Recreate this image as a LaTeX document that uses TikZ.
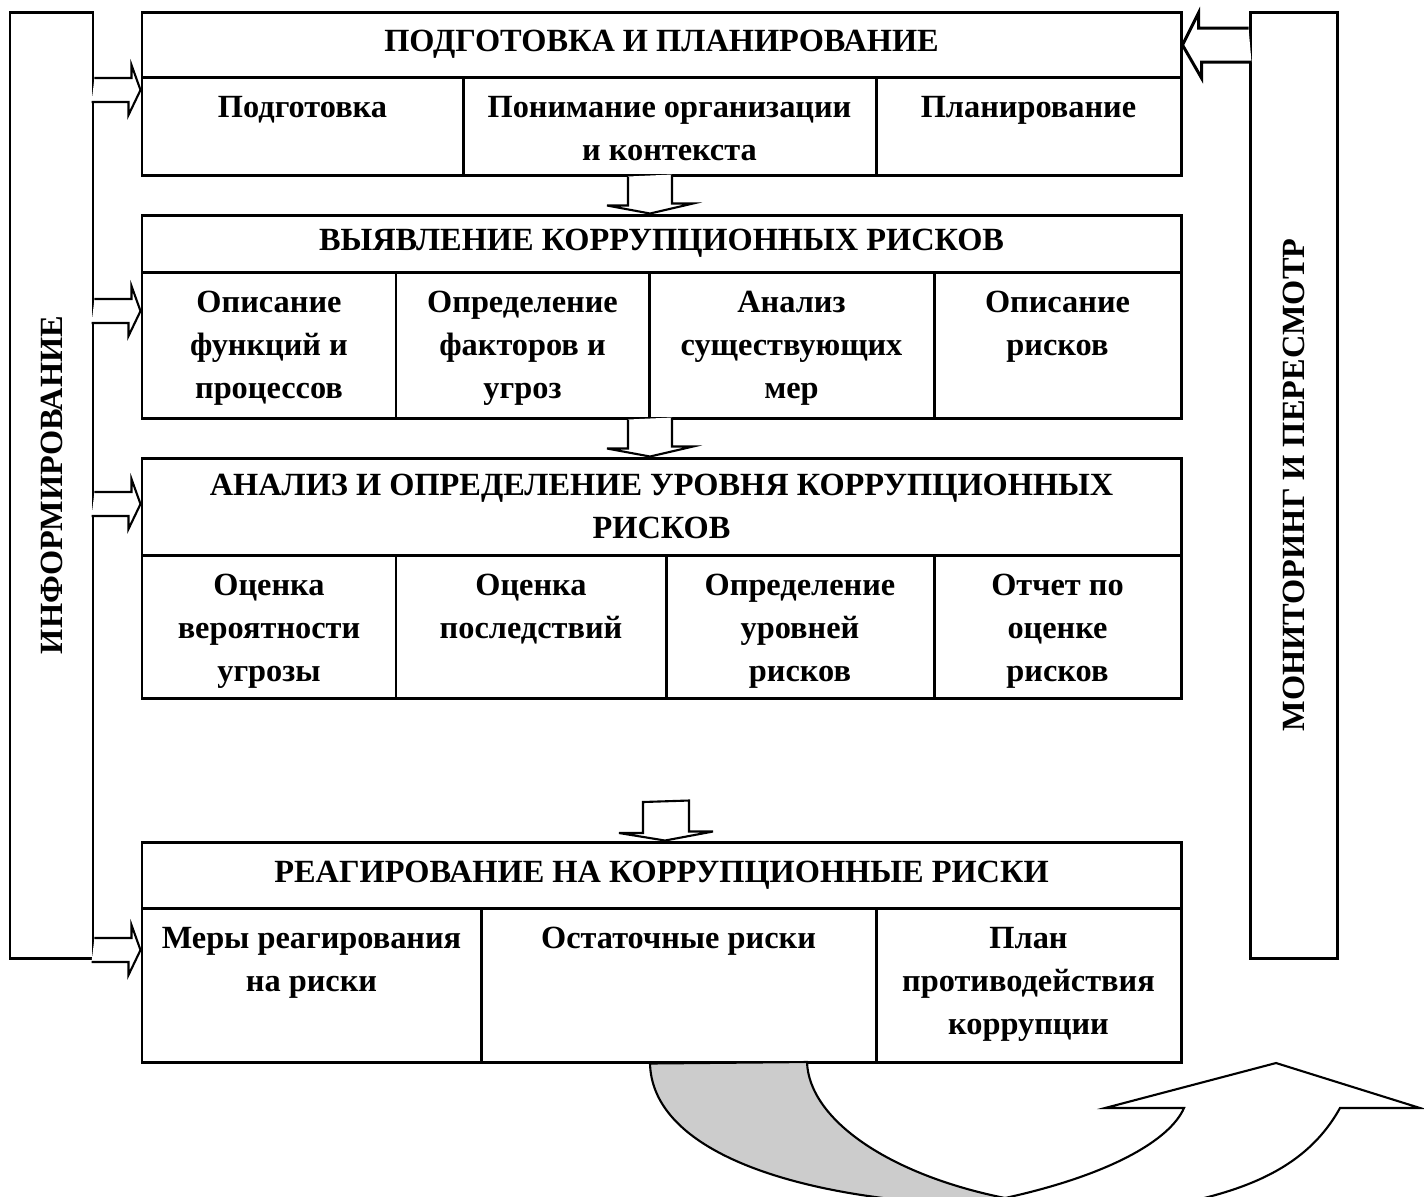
\documentclass[tikz,border=0pt]{standalone}
\usepackage{fontspec}
\setmainfont{Liberation Serif}
\usetikzlibrary{positioning, calc, fit}

\tikzset{
  box/.style={draw, line width=0.85pt, inner sep=0pt},
  txt/.style={font=\bfseries\fontsize{9.2}{12.2}\selectfont, align=center, inner sep=0pt},
  headtext/.style={label={[txt]center:{#1}}},
  celltext/.style={label={[txt, anchor=north, yshift=-0.2cm]north:{#1}}},
  hollow/.style={draw, fill=white, line width=0.6pt, line join=miter},
}

\begin{document}
\begin{tikzpicture}[x=0.01cm, y=-0.01cm]
  \useasboundingbox (0,0) rectangle (1424,1196);

  % side boxes
  \node[box, fit={(10,12) (93,958)}, label={[txt, rotate=90]center:ИНФОРМИРОВАНИЕ}] (info) {};
  \node[box, fit={(1250,12) (1337,958)}, label={[txt, rotate=90]center:МОНИТОРИНГ И ПЕРЕСМОТР}] (monitor) {};

  % stage 1
  \node[box, fit={(142,12) (1181,77)}, headtext={ПОДГОТОВКА И ПЛАНИРОВАНИЕ}] (plan) {};
  \node[box, fit={(142,77) (463,175)}, celltext={Подготовка}] (plan1) {};
  \node[box, fit={(463,77) (876,175)}, celltext={Понимание организации\\и контекста}] (plan2) {};
  \node[box, fit={(876,77) (1181,175)}, celltext={Планирование}] (plan3) {};

  % stage 2
  \node[box, fit={(142,215) (1181,272)}, headtext={ВЫЯВЛЕНИЕ КОРРУПЦИОННЫХ РИСКОВ}] (ident) {};
  \node[box, fit={(142,272) (396,418)}, celltext={Описание\\функций и\\процессов}] (ident1) {};
  \node[box, fit={(396,272) (649,418)}, celltext={Определение\\факторов и\\угроз}] (ident2) {};
  \node[box, fit={(649,272) (934,418)}, celltext={Анализ\\существующих\\мер}] (ident3) {};
  \node[box, fit={(934,272) (1181,418)}, celltext={Описание\\рисков}] (ident4) {};

  % stage 3
  \node[box, fit={(142,458) (1181,555)}, headtext={АНАЛИЗ И ОПРЕДЕЛЕНИЕ УРОВНЯ КОРРУПЦИОННЫХ\\РИСКОВ}] (anal) {};
  \node[box, fit={(142,555) (396,698)}, celltext={Оценка\\вероятности\\угрозы}] (anal1) {};
  \node[box, fit={(396,555) (666,698)}, celltext={Оценка\\последствий}] (anal2) {};
  \node[box, fit={(666,555) (934,698)}, celltext={Определение\\уровней\\рисков}] (anal3) {};
  \node[box, fit={(934,555) (1181,698)}, celltext={Отчет по\\оценке\\рисков}] (anal4) {};

  % stage 4
  \node[box, fit={(142,842) (1181,908)}, headtext={РЕАГИРОВАНИЕ НА КОРРУПЦИОННЫЕ РИСКИ}] (react) {};
  \node[box, fit={(142,908) (481,1062)}, celltext={Меры реагирования\\на риски}] (react1) {};
  \node[box, fit={(481,908) (876,1062)}, celltext={Остаточные риски}] (react2) {};
  \node[box, fit={(876,908) (1181,1062)}, celltext={План\\противодействия\\коррупции}] (react3) {};

  % arrows between stages
  \coordinate (ax1) at (650,0);
  \coordinate (ax3) at (665,802);
  \draw[hollow] (ax1 |- plan2.south) ++(-22,0) -- ++(0,29) -- ++(-21,0) -- (ax1 |- ident.north)
    -- ++(43,-10) -- ++(-21,0) -- ++(0,-29);
  \draw[hollow] (ax1 |- ident2.south) ++(-22,0) -- ++(0,29) -- ++(-21,0) -- (ax1 |- anal.north)
    -- ++(43,-10) -- ++(-21,0) -- ++(0,-29);
  \draw[hollow] (ax3) ++(-22,0) -- ++(0,31) -- ++(-24,0) -- (ax3 |- react.north)
    -- ++(48,-9) -- ++(-24,0) -- ++(0,-31) -- cycle;

  % informing arrows
  \foreach \y/\b in {90/plan1, 311/ident1, 504/anal, 950/react1} {
    \coordinate (l) at (0,\y);
    \draw[hollow] (info.east |- l) ++(0,-12) -- ++(37,0) -- ++(0,-13) -- (\b.west |- l)
      -- ++(-12,25) -- ++(0,-13) -- ++(-37,0);
  }

  % monitoring arrow
  \coordinate (r) at (0,45);
  \draw[hollow, line width=0.85pt] (monitor.west |- r) ++(0,-17) -- ++(-50,0) -- ++(0,-15) -- (plan.east |- r)
    -- ++(19,33) -- ++(0,-16) -- ++(50,0);

  % turning arrow below
  \begin{scope}
    \clip (0,0) rectangle (1424,1196);
    \filldraw[fill=black!20, line width=0.6pt] (react2.south -| 650,0) .. controls (652,1140) and (760,1185) .. (900,1200)
      -- (1005,1215) -- (1005,1198) .. controls (890,1175) and (809,1120) .. (807,1062) -- cycle;
    \draw[hollow] (1005,1198) .. controls (1110,1175) and (1170,1140) .. (1184,1108) -- (1105,1108)
      -- (1276,1063) -- (1420,1108) -- (1340,1108) .. controls (1300,1180) and (1220,1200) .. (1110,1215);
  \end{scope}
\end{tikzpicture}
\end{document}
